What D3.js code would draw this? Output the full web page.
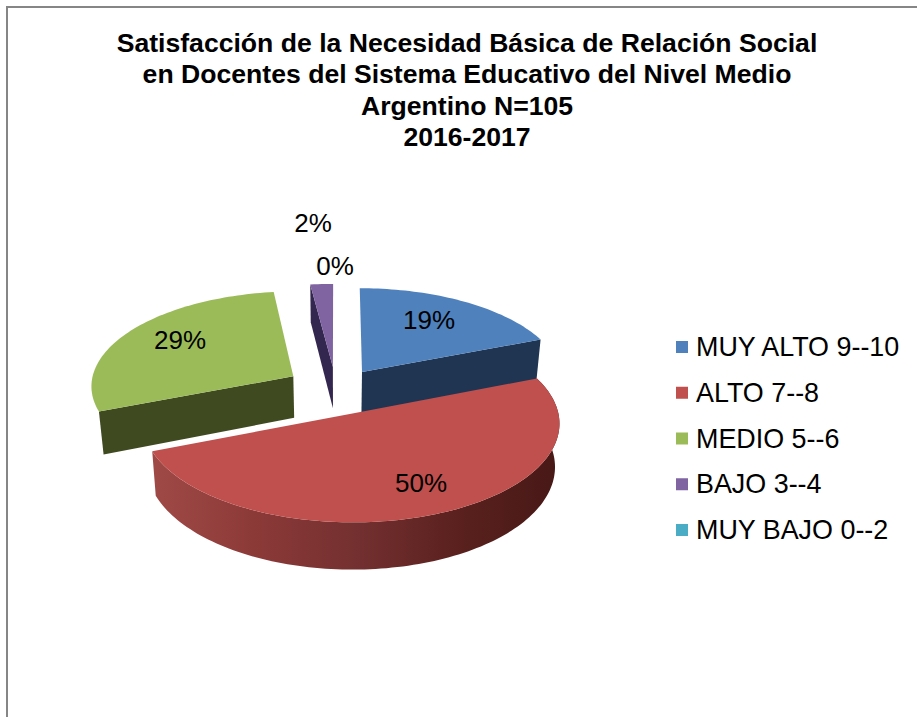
<!DOCTYPE html>
<html><head><meta charset="utf-8">
<script src="https://cdn.jsdelivr.net/npm/d3@7/dist/d3.min.js"></script>
<style>html,body{margin:0;padding:0;background:#fff}svg{display:block}text{font-family:"Liberation Sans",Arial,sans-serif;fill:#000}</style>
</head><body><svg id="c" width="917" height="717"></svg>
<script>
const titleLines = ["Satisfacción de la Necesidad Básica de Relación Social","en Docentes del Sistema Educativo del Nivel Medio","Argentino N=105","2016-2017"];
const categories = ["MUY ALTO 9--10","ALTO 7--8","MEDIO 5--6","BAJO 3--4","MUY BAJO 0--2"];
const values = [19,50,29,2,0];
const topColors = ["#4f81bd","#c0504d","#9bbb59","#8064a2","#4bacc6"];
const wallColors = ["#1f3552","#6b2a28","#3f4a20","#33264f","#1f5566"];
const labelPos = [[429,320],[421,483],[180,340],[313,223],[335,266]];
const sliceNudge = [[1,0],[-1,0],[3.5,-3],[3,-1],[0,0]];

const svg = d3.select("#c");
const explode = 0.25, persp = 0.09, depth = 42;
const sx = d3.scaleLinear().domain([-1,1]).range([333-203,333+203]);
const sy = d3.scaleLinear().domain([-1,1]).range([391.2-94.6,391.2+94.6]);
const pie = d3.pie().sort(null).value(d=>d).startAngle(0).endAngle(2*Math.PI);
const arcs = pie(values);

function project(i, r, t, low){
  const a = arcs[i], mid = (a.startAngle+a.endAngle)/2;
  const X = r*Math.sin(t)+explode*Math.sin(mid);
  const Y = -r*Math.cos(t)-explode*Math.cos(mid);
  const w = 1-persp*Y;
  const sh = low ? 1.02 : 1;
  return [sx(0)+(sx(X/w)-sx(0))/sh+sliceNudge[i][0], sy(Y/w)+(low?depth/w:0)+sliceNudge[i][1]];
}
const line = d3.line();
function rim(i,t0,t1,low){
  const n = Math.max(2,Math.ceil(Math.abs(t1-t0)*40));
  return d3.range(n+1).map(k=>project(i,1,t0+(t1-t0)*k/n,low));
}

const defs = svg.append("defs");
const grad = defs.append("linearGradient").attr("id","redWall")
  .attr("gradientUnits","userSpaceOnUse").attr("x1",150).attr("x2",560).attr("y1",0).attr("y2",0);
[[0,"#a04a47"],[0.25,"#8c3a38"],[0.5,"#743030"],[0.75,"#5a211e"],[1,"#471816"]]
  .forEach(s=>grad.append("stop").attr("offset",s[0]).attr("stop-color",s[1]));

svg.append("path").attr("d","M7,717V7H917").attr("fill","none").attr("stroke","#868686").attr("stroke-width",2);

function face(i){
  const a = arcs[i];
  return line([project(i,0,0,false),...rim(i,a.startAngle,a.endAngle,false)])+"Z";
}
function radialWall(i,t){
  return line([project(i,0,0,false),project(i,1,t,false),project(i,1,t,true),project(i,0,0,true)])+"Z";
}
const g = svg.append("g");
// back to front: purple, green, blue, red
[3,2,0,1].forEach(i=>{
  const a = arcs[i];
  if(a.endAngle-a.startAngle<=0) return;
  if(i===1){
    g.append("path").attr("fill","url(#redWall)")
      .attr("d",line([...rim(i,a.startAngle,a.endAngle,false),...rim(i,a.endAngle,a.startAngle,true)])+"Z");
  } else if(i===0){
    g.append("path").attr("fill",wallColors[i]).attr("d",radialWall(i,a.endAngle));
  } else {
    g.append("path").attr("fill",wallColors[i]).attr("d",radialWall(i,a.startAngle));
  }
  g.append("path").attr("fill",topColors[i]).attr("d",face(i));
});

values.forEach((v,i)=>{
  svg.append("text").attr("x",labelPos[i][0]).attr("y",labelPos[i][1]+9)
    .attr("text-anchor","middle").attr("font-size",26).text(v+"%");
});

const legendY = d3.scalePoint().domain(categories).range([347,530]);
categories.forEach((c,i)=>{
  svg.append("rect").attr("x",676).attr("y",legendY(c)-6).attr("width",12).attr("height",12).attr("fill",topColors[i]);
  svg.append("text").attr("x",696).attr("y",legendY(c)+9).attr("font-size",26.9).text(c);
});

const titleY = d3.scalePoint().domain(titleLines).range([52,146]);
titleLines.forEach(t=>{
  svg.append("text").attr("x",467).attr("y",titleY(t)).attr("text-anchor","middle")
    .attr("font-size",26.6).attr("font-weight","bold").text(t);
});
</script></body></html>
